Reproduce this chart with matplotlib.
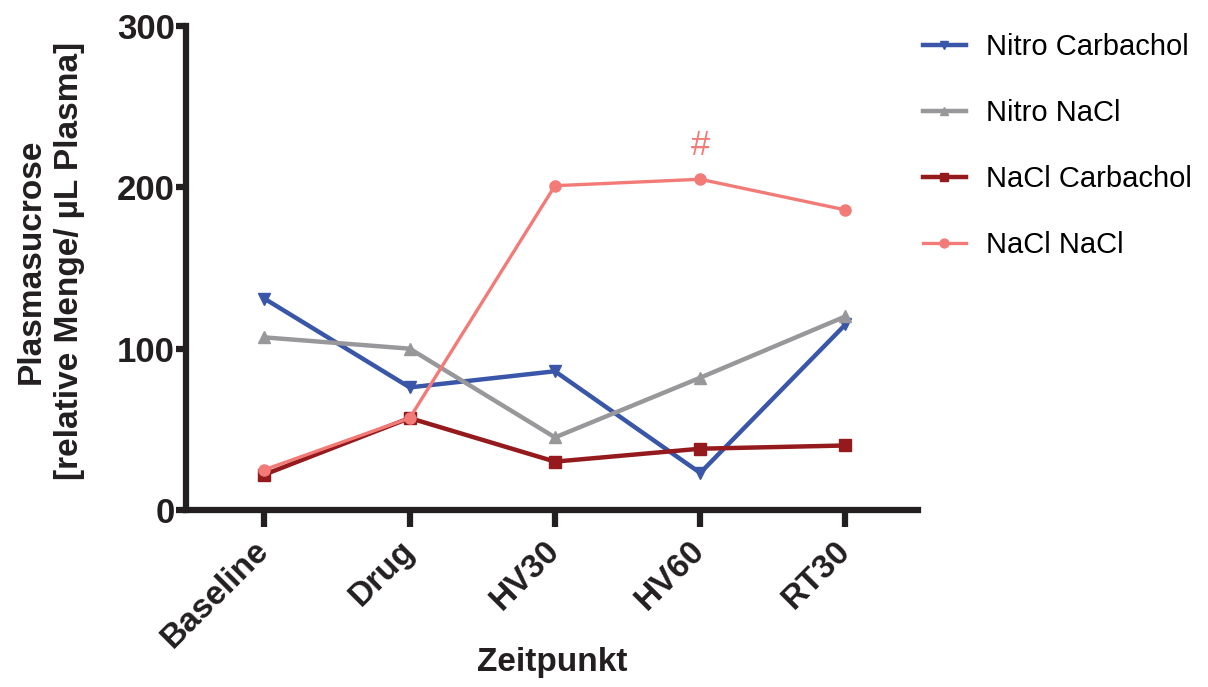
import matplotlib
matplotlib.use("Agg")
import matplotlib.pyplot as plt

# data
zeitpunkte = ["Baseline", "Drug", "HV30", "HV60", "RT30"]
nitro_carbachol = [131, 76, 86, 23, 115]
nitro_nacl = [107, 100, 45, 82, 120]
nacl_carbachol = [22, 57, 30, 38, 40]
nacl_nacl = [25, 57, 201, 205, 186]

plt.rcParams["font.family"] = ["Liberation Sans", "DejaVu Sans"]
ink = "#231f20"

fig = plt.figure(figsize=(12.08, 6.87), dpi=100)
ax = fig.add_axes([0.154, 0.2576, 0.606, 0.7046])

x = list(range(len(zeitpunkte)))
ax.plot(x, nitro_carbachol, color="#3a56a8", lw=3.2, marker="v", ms=8, label="Nitro Carbachol")
ax.plot(x, nitro_nacl, color="#98989a", lw=3.2, marker="^", ms=8, label="Nitro NaCl")
ax.plot(x, nacl_carbachol, color="#951a1d", lw=3.2, marker="s", ms=8, label="NaCl Carbachol")
ax.plot(x, nacl_nacl, color="#f27b78", lw=2.4, marker="o", ms=8, label="NaCl NaCl")

# significance mark
ax.text(3, 226, "#", color="#f27b78", fontsize=25, ha="center", va="center")

ax.set_xlim(-0.54, 4.5)
ax.set_ylim(0, 300)
ax.set_yticks([0, 100, 200, 300])
ax.set_xticks(x)
ax.set_xticklabels(zeitpunkte, rotation=45, ha="right", va="center", rotation_mode="anchor",
                   fontsize=24, fontweight="bold", color=ink)
for lab in ax.get_yticklabels():
    lab.set_fontsize(25)
    lab.set_fontweight("bold")
    lab.set_color(ink)

for s in ["top", "right"]:
    ax.spines[s].set_visible(False)
for s in ["left", "bottom"]:
    ax.spines[s].set_linewidth(4.5)
    ax.spines[s].set_color(ink)
    ax.spines[s].set_capstyle("projecting")
ax.tick_params(axis="y", length=7, width=4.5, color=ink, pad=1)
ax.tick_params(axis="x", length=12, width=4.5, color=ink, pad=14)

ax.set_xlabel("Zeitpunkt", fontsize=24, fontweight="bold", color=ink, labelpad=-5)
ax.set_ylabel("Plasmasucrose\n[relative Menge/ \u00b5L Plasma]", fontsize=24,
              fontweight="bold", color=ink, linespacing=1.3)
ax.yaxis.set_label_coords(-0.138, 0.514)

fig.legend(loc="upper left", bbox_to_anchor=(0.742, 0.99), frameon=False,
           fontsize=21, handlelength=1.48, labelspacing=1.3, handletextpad=0.7,
           markerscale=0.8)

fig.savefig("out.png", dpi=100)
